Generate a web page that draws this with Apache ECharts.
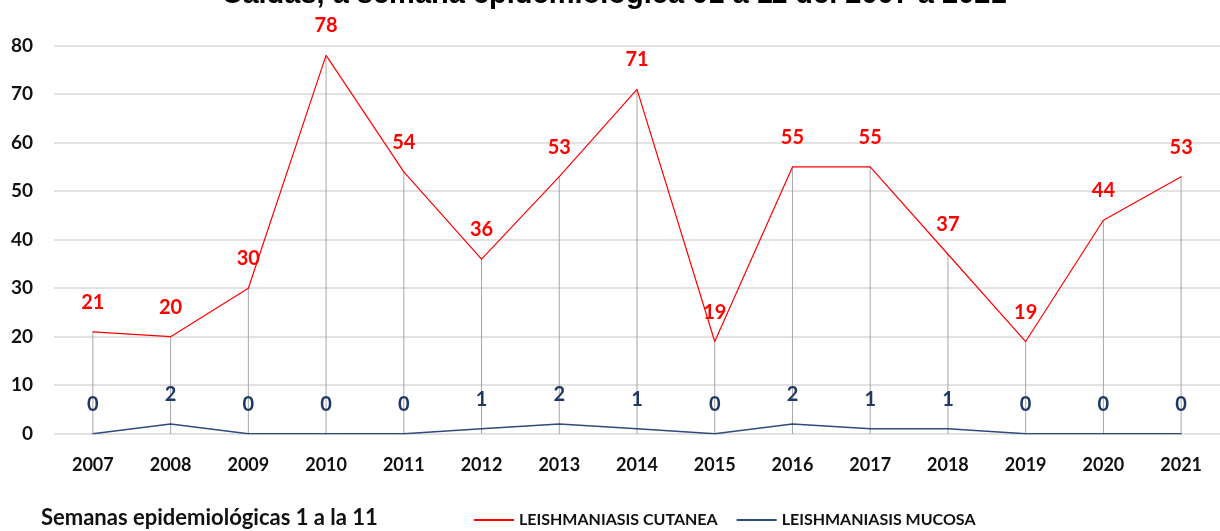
<!DOCTYPE html>
<html>
<head>
<meta charset="utf-8">
<script src="https://cdn.jsdelivr.net/npm/echarts@6/dist/echarts.min.js"></script>
<style>
  html, body { margin: 0; padding: 0; background: #fff; }
  #chart { width: 1220px; height: 531px; }
</style>
</head>
<body>
<div id="chart"></div>
<script>
// años (semanas 1 a 11)
const years = ['2007', '2008', '2009', '2010', '2011', '2012', '2013', '2014',
    '2015', '2016', '2017', '2018', '2019', '2020', '2021'];
const cutanea = [21, 20, 30, 78, 54, 36, 53, 71, 19, 55, 55, 37, 19, 44, 53];
const mucosa = [0, 2, 0, 0, 0, 1, 2, 1, 0, 2, 1, 1, 0, 0, 0];
const yTicks = [0, 10, 20, 30, 40, 50, 60, 70, 80];

const font = 'Lato, "Open Sans", sans-serif';
const chart = echarts.init(document.getElementById('chart'));

// lineas de caida (gris) hasta el eje
const dropLines = years.map((y, i) => Math.max(cutanea[i], mucosa[i]));

function labelStyle(color) {
    return {
        show: true,
        position: 'top',
        distance: 19,
        fontFamily: font,
        fontWeight: 'bold',
        fontSize: 20,
        color: color
    };
}

const option = {
    animation: false,
    title: {
        text: 'Caldas, a semana epidemiológica 01 a 11 del 2007 a 2021',
        left: 609,
        textAlign: 'center',
        top: -25,
        textStyle: {
            fontFamily: '"Liberation Sans", Arial, sans-serif',
            fontWeight: 'bold',
            fontSize: 29,
            color: '#000'
        }
    },
    grid: {
        left: 54,
        top: 45.7,
        width: 1182,
        height: 388
    },
    legend: {
        left: 468,
        top: 507,
        itemWidth: 40,
        itemHeight: 10,
        itemGap: 18,
        itemStyle: { opacity: 0 },
        data: ['LEISHMANIASIS CUTANEA', 'LEISHMANIASIS MUCOSA'],
        textStyle: {
            fontFamily: font,
            fontWeight: 'bold',
            fontSize: 16,
            color: '#111'
        }
    },
    graphic: [{
        type: 'text',
        left: 41,
        top: 507,
        style: {
            text: 'Semanas epidemiológicas 1 a la 11',
            font: 'bold 22px ' + font,
            fill: '#111'
        }
    }],
    xAxis: {
        type: 'category',
        data: years,
        boundaryGap: true,
        axisLine: { show: false },
        axisTick: { show: false },
        axisLabel: {
            margin: 22,
            fontFamily: font,
            fontWeight: 'bold',
            fontSize: 18,
            color: '#111'
        }
    },
    yAxis: {
        type: 'value',
        min: yTicks[0],
        max: yTicks[yTicks.length - 1],
        interval: 10,
        axisLine: { show: false },
        axisTick: { show: false },
        splitLine: { lineStyle: { color: '#D9D9D9', width: 1.5 } },
        axisLabel: {
            margin: 21,
            fontFamily: font,
            fontWeight: 'bold',
            fontSize: 19,
            color: '#111'
        }
    },
    series: [
        {
            name: 'drop',
            type: 'bar',
            data: dropLines,
            barWidth: 1,
            silent: true,
            itemStyle: { color: '#A6A6A6' },
            z: 1
        },
        {
            name: 'LEISHMANIASIS CUTANEA',
            type: 'line',
            data: cutanea,
            symbol: 'circle',
            symbolSize: 1,
            showSymbol: true,
            lineStyle: { color: '#FF0000', width: 1.2 },
            itemStyle: { color: '#FF0000' },
            label: labelStyle('#FF0000'),
            z: 3
        },
        {
            name: 'LEISHMANIASIS MUCOSA',
            type: 'line',
            data: mucosa,
            symbol: 'circle',
            symbolSize: 1,
            showSymbol: true,
            lineStyle: { color: '#2F4A7C', width: 1.5 },
            itemStyle: { color: '#2F4A7C' },
            label: labelStyle('#1F3864'),
            z: 3
        }
    ]
};

chart.setOption(option);
</script>
</body>
</html>
